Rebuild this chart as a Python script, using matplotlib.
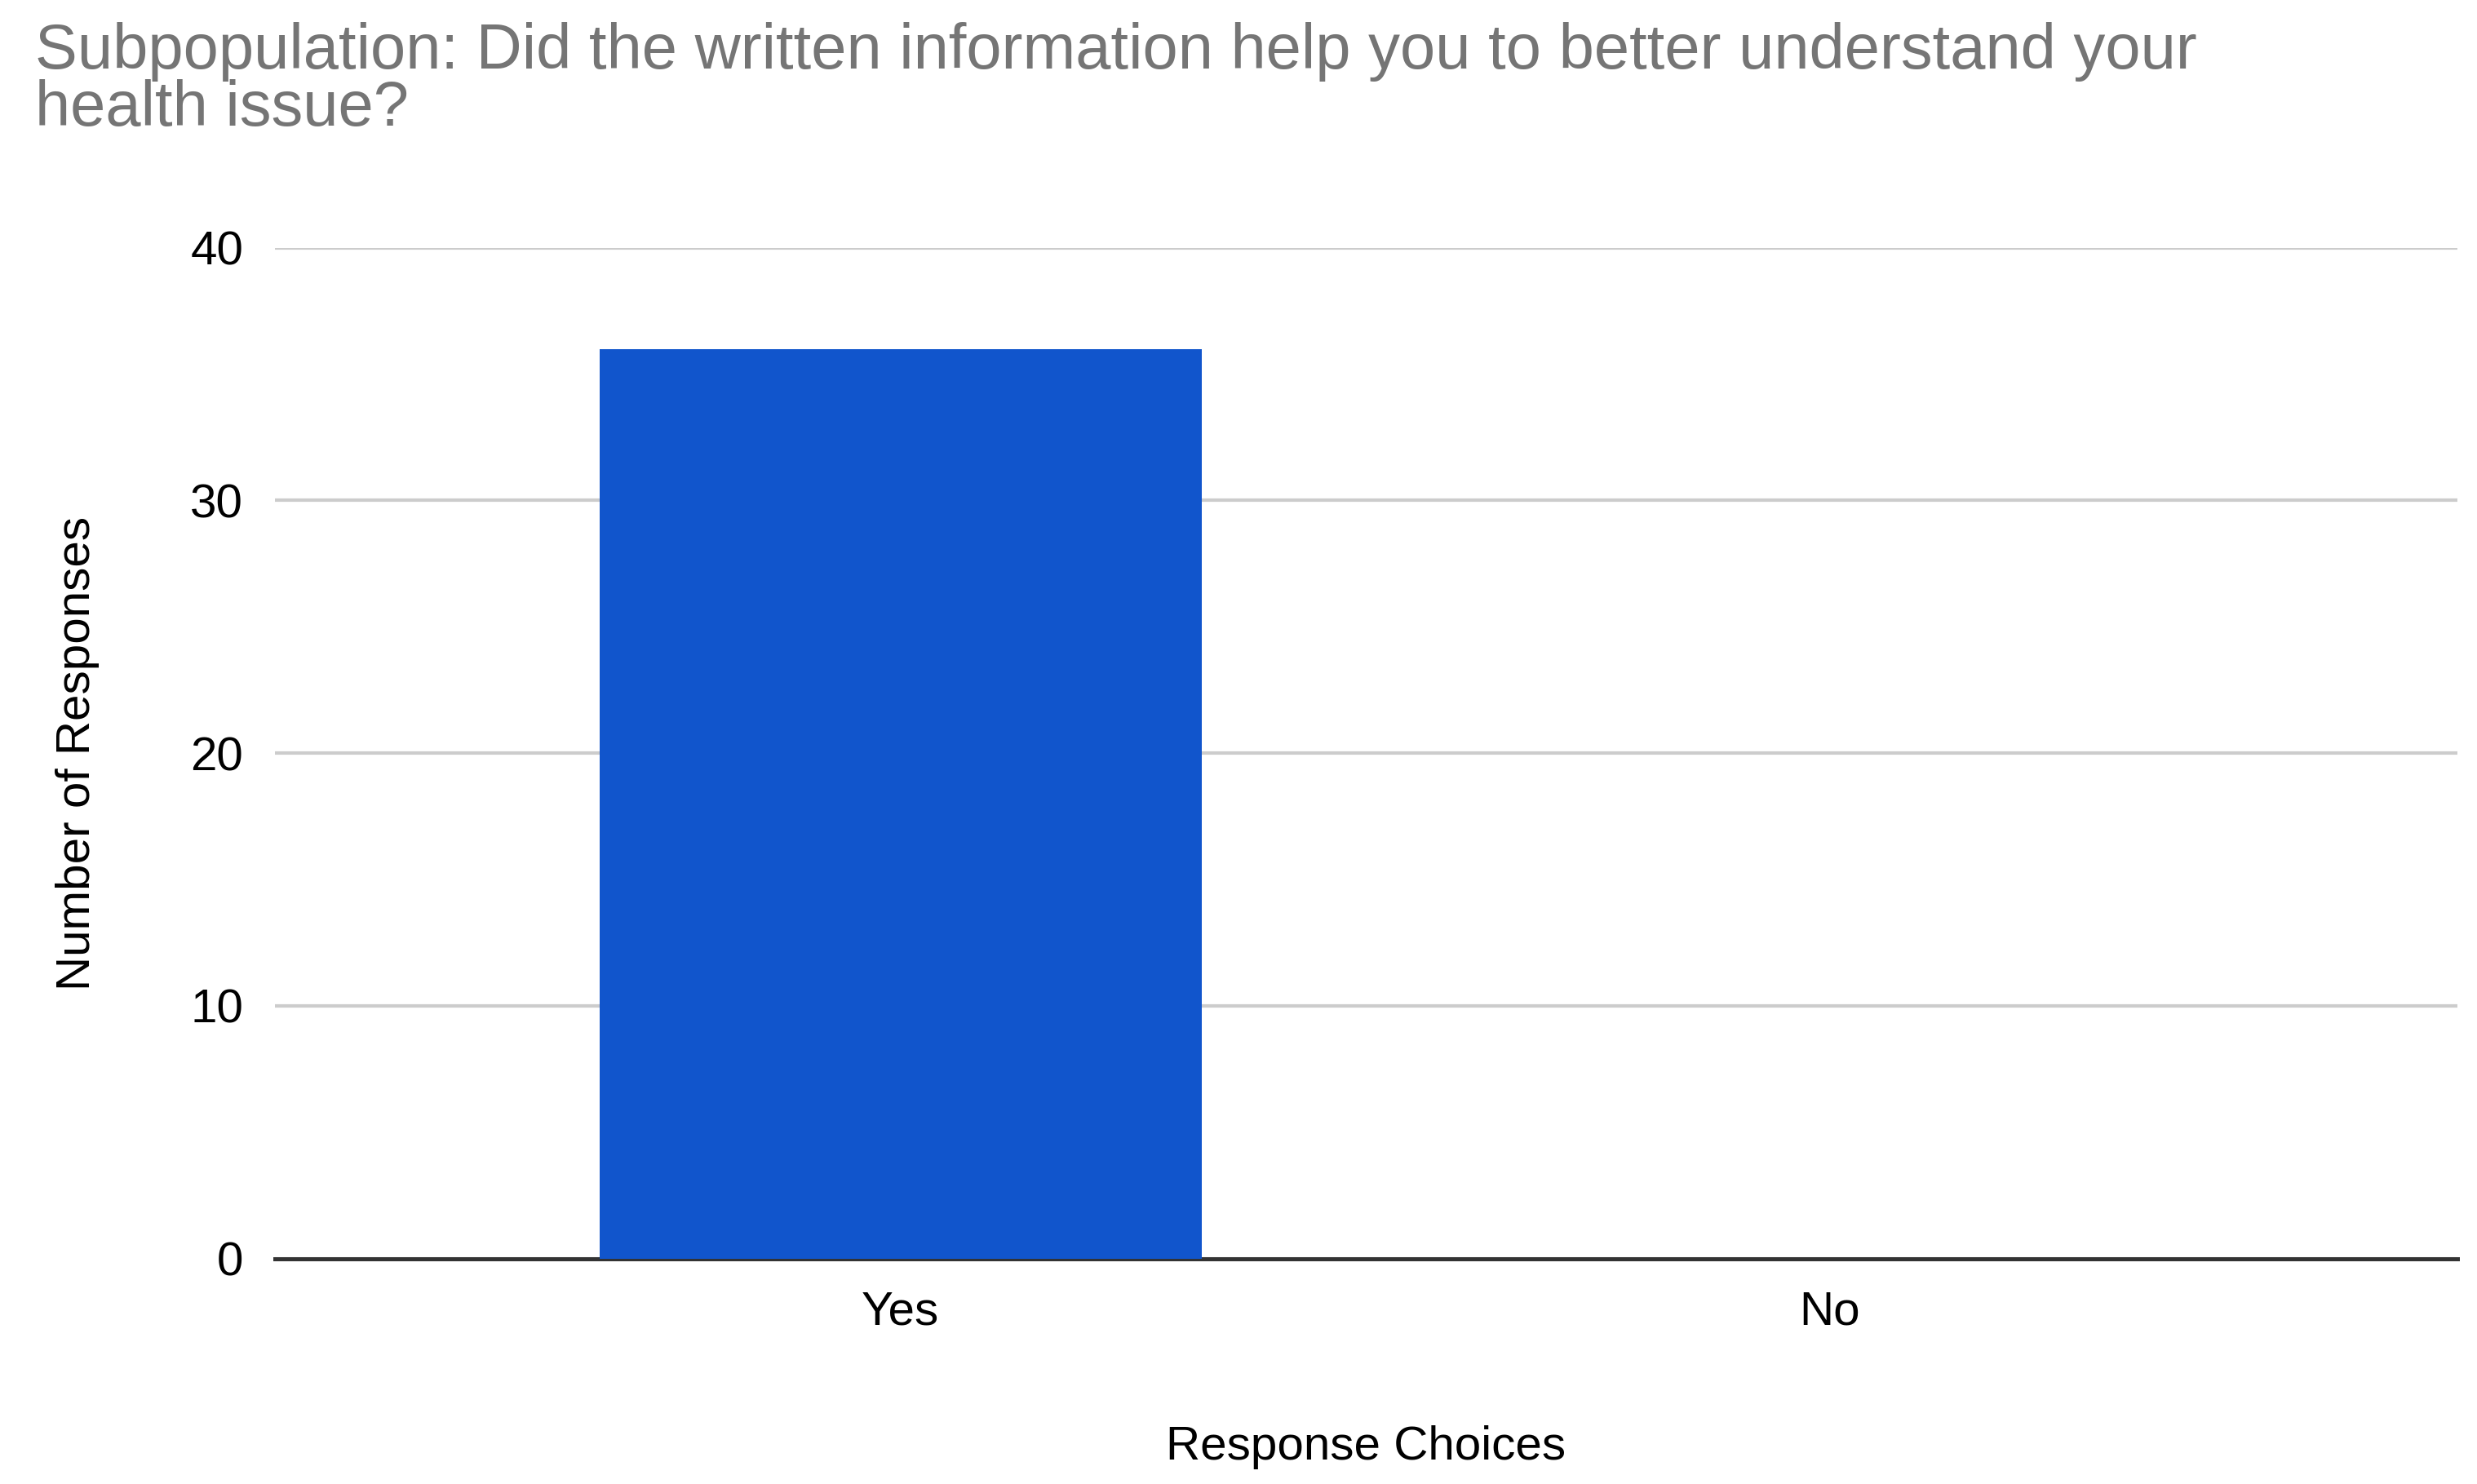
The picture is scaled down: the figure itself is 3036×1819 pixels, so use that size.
import matplotlib.pyplot as plt

categories = ["Yes", "No"]
responses = [36, 0]
y_ticks = [0, 10, 20, 30, 40]

plt.rcParams['font.family'] = ['Liberation Sans', 'DejaVu Sans']

fig = plt.figure(figsize=(15.18, 9.095), dpi=200)
ax = fig.add_axes([0.111, 0.152, 0.881, 0.681])

ax.bar(range(len(categories)), responses, width=0.648, color='#1155cc', zorder=3)
ax.set_xlim(-0.673, 1.675)
ax.set_ylim(0, 40)
ax.set_xticks(range(len(categories)))
ax.set_xticklabels(categories)
ax.set_yticks(y_ticks)
ax.grid(axis='y', color='#cccccc', linewidth=1.5, zorder=0)
ax.tick_params(axis='both', length=0, labelsize=21, pad=14)
for side in ['top', 'right', 'left']:
    ax.spines[side].set_visible(False)
ax.spines['bottom'].set_color('#333333')
ax.spines['bottom'].set_linewidth(1.8)

ax.set_xlabel("Response Choices", fontsize=21, labelpad=40)
ax.set_ylabel("Number of Responses", fontsize=21, labelpad=40)

fig.text(0.014, 0.985, "Subpopulation: Did the written information help you to better understand your\nhealth issue?",
         fontsize=28, color='#757575', va='top', ha='left', linespacing=0.95)

fig.savefig("out.png", dpi=200)
